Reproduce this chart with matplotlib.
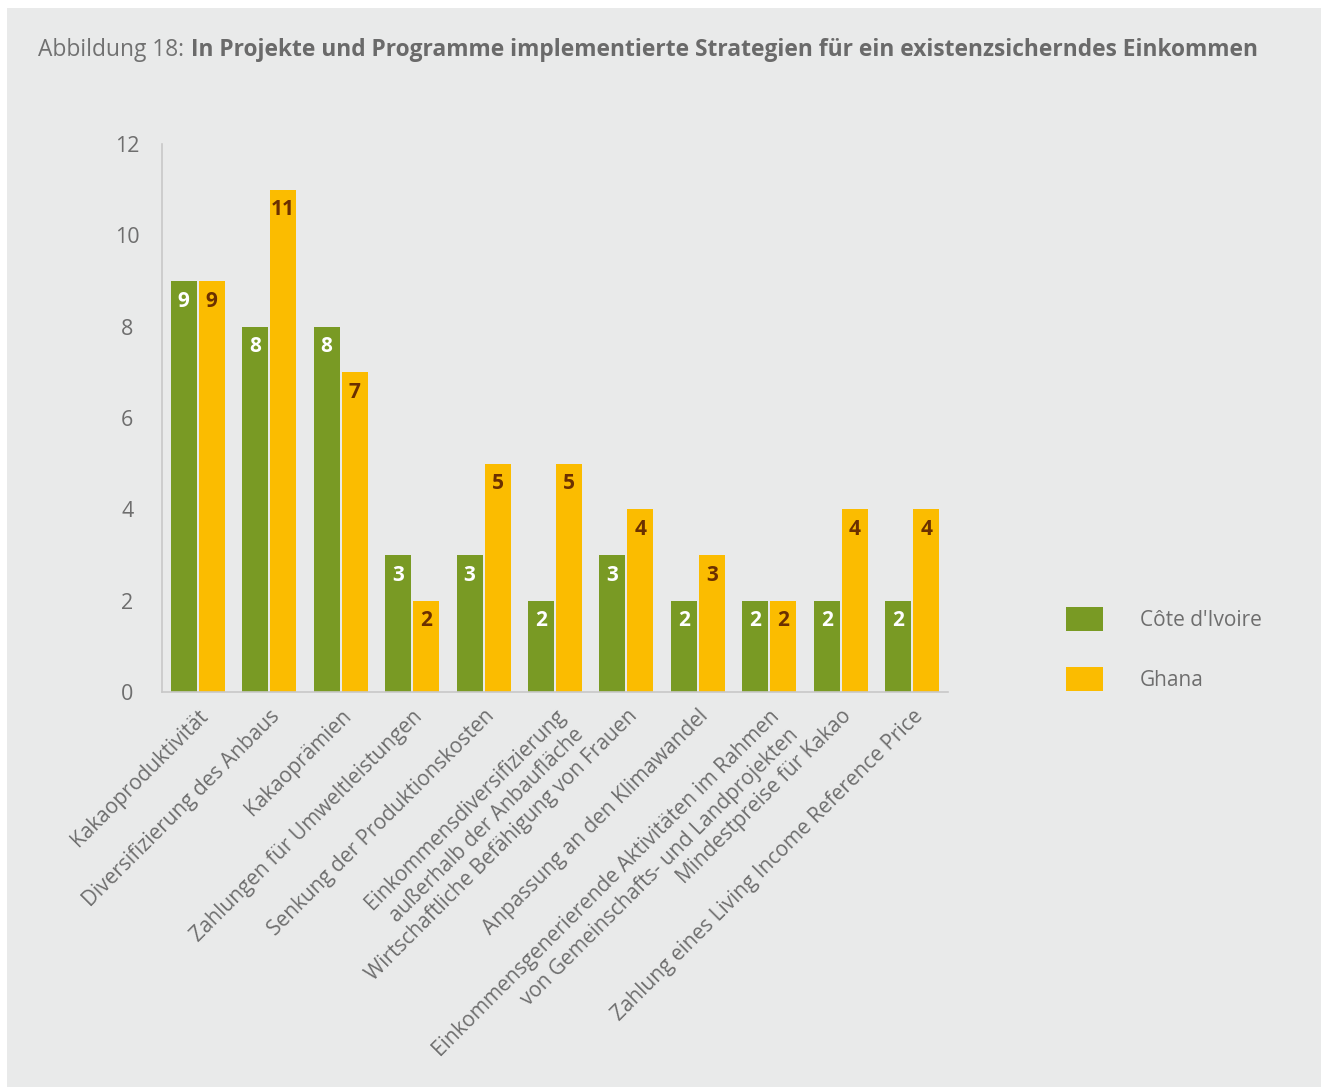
import numpy as np
import matplotlib
matplotlib.use("Agg")
import matplotlib.pyplot as plt
from matplotlib.patches import Rectangle

plt.rcParams['font.family'] = ['Open Sans', 'DejaVu Sans']

# Daten
kategorien = [
    "Kakaoproduktivität",
    "Diversifizierung des Anbaus",
    "Kakaoprämien",
    "Zahlungen für Umweltleistungen",
    "Senkung der Produktionskosten",
    "Einkommensdiversifizierung\naußerhalb der Anbaufläche",
    "Wirtschaftliche Befähigung von Frauen",
    "Anpassung an den Klimawandel",
    "Einkommensgenerierende Aktivitäten im Rahmen\nvon Gemeinschafts- und Landprojekten",
    "Mindestpreise für Kakao",
    "Zahlung eines Living Income Reference Price",
]
cote_divoire = [9, 8, 8, 3, 3, 2, 3, 2, 2, 2, 2]
ghana = [9, 11, 7, 2, 5, 5, 4, 3, 2, 4, 4]
y_ticks = [0, 2, 4, 6, 8, 10, 12]

GRUEN = "#799a24"
GELB = "#fbbc00"
BRAUN = "#6b3000"
BG = "#e9eaea"
GRAU = "#6e6e6e"

W, H = 1321, 1087
fig = plt.figure(figsize=(W / 100, H / 100), dpi=100, facecolor="white")
fig.patches.append(Rectangle((7 / W, 0), 1 - 7 / W, 1 - 8 / H, transform=fig.transFigure,
                             facecolor=BG, edgecolor="none", zorder=-10))

ax = fig.add_axes([162 / W, (H - 692) / H, 786 / W, 548 / H])
ax.set_facecolor("none")

x = np.arange(len(kategorien))
breite = 26 / 71.5
luecke = 2 / 71.5
b1 = ax.bar(x - breite / 2 - luecke / 2, cote_divoire, breite, color=GRUEN, label="Côte d'Ivoire")
b2 = ax.bar(x + breite / 2 + luecke / 2, ghana, breite, color=GELB, label="Ghana")

# Werte in den Balken
for bars, werte, farbe in [(b1, cote_divoire, "white"), (b2, ghana, BRAUN)]:
    for rect, v in zip(bars, werte):
        ax.annotate(str(v), (rect.get_x() + rect.get_width() / 2, v),
                    xytext=(0, -14.5), textcoords="offset points",
                    ha="center", va="center", fontsize=15, fontweight="bold", color=farbe)

ax.set_xlim(-0.5, len(kategorien) - 0.5)
ax.set_ylim(0, 12)
ax.set_yticks(y_ticks)
ax.set_yticklabels([str(t) for t in y_ticks], ha="center")
ax.tick_params(axis="y", length=0, pad=25, labelsize=15.5, labelcolor=GRAU)
ax.set_xticks(x)
ax.set_xticklabels(kategorien, rotation=45, ha="right", va="top", rotation_mode="anchor",
                   multialignment="right", fontsize=15, color=GRAU, linespacing=1.3)
ax.tick_params(axis="x", length=0, pad=10)

for s in ["top", "right"]:
    ax.spines[s].set_visible(False)
for s in ["left", "bottom"]:
    ax.spines[s].set_color("#c8c8c8")
    ax.spines[s].set_linewidth(1.2)

fig.legend(loc="upper left", bbox_to_anchor=(1066 / W, (H - 607) / H), frameon=False,
           borderaxespad=0, borderpad=0, fontsize=15, handlelength=1.78, handleheight=1.39,
           handletextpad=1.78, labelspacing=1.75, labelcolor=GRAU)

# Titel
t1 = fig.text(38 / W, (H - 56) / H, "Abbildung 18:", fontsize=16.4, color="#717171", va="baseline")
fig.canvas.draw()
bb = t1.get_window_extent()
fig.text((bb.x1 + 7) / W, (H - 56) / H,
         "In Projekte und Programme implementierte Strategien für ein existenzsicherndes Einkommen",
         fontsize=16.4, fontweight="bold", color="#6a6a6a", va="baseline")

fig.savefig("out.png", dpi=100, facecolor=fig.get_facecolor())
